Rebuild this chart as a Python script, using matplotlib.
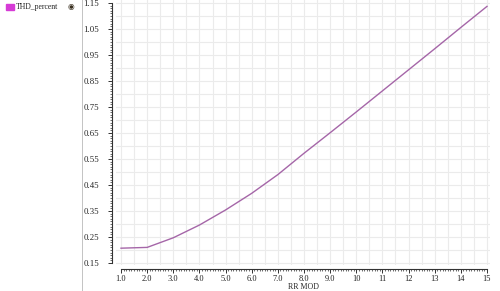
import numpy as np
import matplotlib
matplotlib.use("Agg")
import matplotlib.pyplot as plt
from matplotlib.ticker import FixedLocator
from matplotlib.patches import Rectangle

# 数据
rr_mod = [1, 2, 3, 4, 5, 6, 7, 8, 9, 10, 11, 12, 13, 14, 15]
thd_percent = [0.207, 0.210, 0.247, 0.296, 0.354, 0.418, 0.490, 0.572,
               0.651, 0.731, 0.812, 0.893, 0.974, 1.056, 1.137]
series_name = "THD_percent"
x_label = "RR MOD"
x_ticks = [1, 2, 3, 4, 5, 6, 7, 8, 9, 10, 11, 12, 13, 14, 15]
x_tick_labels = ["1.0", "2.0", "3.0", "4.0", "5.0", "6.0", "7.0", "8.0", "9.0",
                 "10", "11", "12", "13", "14", "15"]
y_ticks = [0.15, 0.25, 0.35, 0.45, 0.55, 0.65, 0.75, 0.85, 0.95, 1.05, 1.15]

plt.rcParams["font.family"] = ["Liberation Serif", "DejaVu Serif"]

W, H = 500, 291
fig = plt.figure(figsize=(W / 100, H / 100), dpi=100)

# 主坐标区（像素位置换算）
left, right, top, bottom = 116, 490, 0, 265
ax = fig.add_axes([left / W, 1 - bottom / H, (right - left) / W, (bottom - top) / H])
ax.set_xlim(1 - 5 / 26.14, 15 + 3 / 26.14)
ax.set_ylim(0.15 - 2 / 260, 1.15 + 3 / 260)

# 网格
grid_c = "#ebebeb"
ax.vlines(np.arange(1.0, 15.01, 0.5), 0.0, 2.0, color=grid_c, lw=0.8, zorder=0)
ax.hlines(np.arange(0.15, 1.1501, 0.05), 0.0, 16.0, color=grid_c, lw=0.8, zorder=0)

ax.plot(rr_mod, thd_percent, color="#a566a8", lw=1.0, zorder=3)

for s in ["top", "right"]:
    ax.spines[s].set_visible(False)
ax.spines["left"].set_position(("outward", 3))
ax.spines["bottom"].set_position(("outward", 3))
ax.spines["left"].set_bounds(0.15, 1.15)
ax.spines["bottom"].set_bounds(1, 15)
for s in ["left", "bottom"]:
    ax.spines[s].set_color("#333333")
    ax.spines[s].set_linewidth(0.8)

ax.xaxis.set_major_locator(FixedLocator(x_ticks))
ax.set_xticklabels(x_tick_labels)
ax.xaxis.set_minor_locator(FixedLocator(np.arange(1.0, 15.001, 0.1)))
ax.yaxis.set_major_locator(FixedLocator(y_ticks))
ax.yaxis.set_minor_locator(FixedLocator(np.arange(0.15, 1.1501, 0.01)))
ax.tick_params(which="major", length=3, width=0.7, color="#333333",
               labelsize=6.3, labelcolor="#222222")
ax.tick_params(which="minor", length=1.5, width=0.5, color="#333333")
ax.tick_params(axis="x", pad=1.5, labelsize=6)
ax.tick_params(axis="y", pad=6)
ax.set_xlabel(x_label, fontsize=5.7, color="#222222")
ax.xaxis.set_label_coords(0.5, -18.3 / 265)

# 左侧图例面板
fig.add_artist(Rectangle((82 / W, 0), 0.8 / W, 1, color="#c4c4c4", lw=0,
                         transform=fig.transFigure, zorder=10))
fig.add_artist(Rectangle((6 / W, 1 - 10 / H), 8 / W, 6 / H, color="#d63bd6",
                         transform=fig.transFigure))
fig.text(16 / W, 1 - 7 / H, series_name, fontsize=5.6, color="#222222", va="center")
fig.text(71 / W, 1 - 7 / H, "◉", fontsize=5.5, color="#3a3020", va="center",
         ha="center", family=["DejaVu Sans"])

fig.savefig("out.png", dpi=100)
